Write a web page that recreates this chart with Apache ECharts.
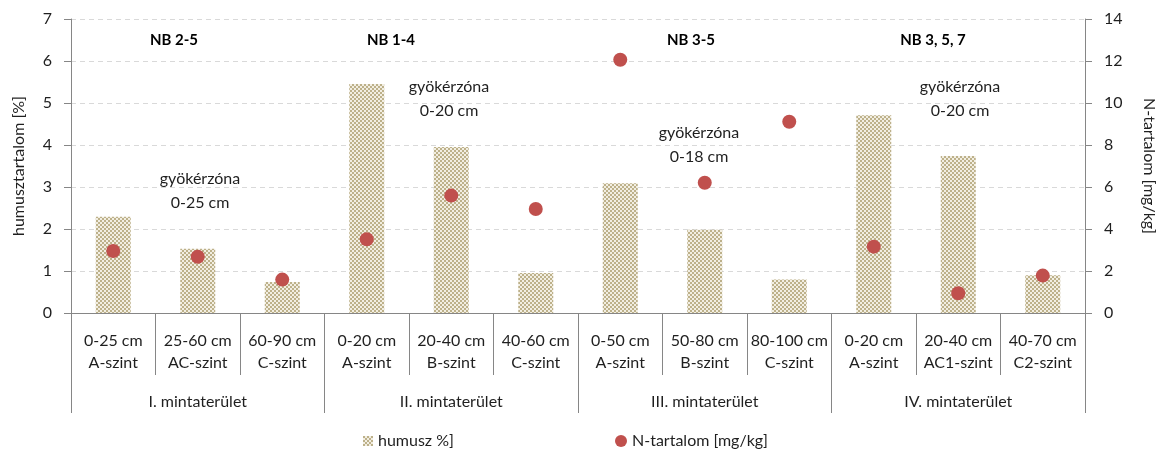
<!DOCTYPE html>
<html>
<head>
<meta charset="utf-8">
<script src="https://cdn.jsdelivr.net/npm/echarts@6/dist/echarts.min.js"></script>
<style>
html,body{margin:0;padding:0;background:#fff;}
#chart{width:1165px;height:454px;}
</style>
</head>
<body>
<div id="chart"></div>
<script>
// ---- data ----
const depths = ['0-25 cm','25-60 cm','60-90 cm','0-20 cm','20-40 cm','40-60 cm','0-50 cm','50-80 cm','80-100 cm','0-20 cm','20-40 cm','40-70 cm'];
const horizons = ['A-szint','AC-szint','C-szint','A-szint','B-szint','C-szint','A-szint','B-szint','C-szint','A-szint','AC1-szint','C2-szint'];
const areas = ['I. mintaterület','II. mintaterület','III. mintaterület','IV. mintaterület'];
const humus = [2.29, 1.53, 0.74, 5.45, 3.95, 0.95, 3.09, 1.98, 0.80, 4.71, 3.74, 0.90];
const nContent = [2.95, 2.68, 1.59, 3.51, 5.59, 4.95, 12.06, 6.20, 9.11, 3.16, 0.94, 1.78];
const leftTicks = [0, 7, 1];
const rightTicks = [0, 14, 2];
const nbLabels = ['NB 2-5','NB 1-4','NB 3-5','NB 3, 5, 7'];
const rootLabels = ['gyökérzóna\n0-25 cm','gyökérzóna\n0-20 cm','gyökérzóna\n0-18 cm','gyökérzóna\n0-20 cm'];

const categories = depths.map((d,i)=>d+'\n'+horizons[i]);

// pattern for bars
const pc = document.createElement('canvas');
pc.width = 4; pc.height = 4;
const ctx = pc.getContext('2d');
ctx.fillStyle = '#f2eee2'; ctx.fillRect(0,0,4,4);
ctx.fillStyle = '#bdb18a';
ctx.fillRect(0,0,2,2); ctx.fillRect(2,2,2,2);
const pattern = {image: pc, repeat: 'repeat'};

const FONT = 'Lato';
const TXT = '#1f1f1f';
const AX = '#868686';

const nbPos = [[174,40],[391,40],[691,40],[933,40]];
const rootPos = [[200,191],[449,99],[699,145],[960,99]];

const graphics = [];
nbLabels.forEach((t,i)=>graphics.push({type:'text', x:nbPos[i][0], y:nbPos[i][1],
  style:{text:t, font:'bold 15px '+FONT, fill:'#000', align:'center', verticalAlign:'middle'}}));
rootLabels.forEach((t,i)=>graphics.push({type:'text', x:rootPos[i][0], y:rootPos[i][1],
  style:{text:t, font:'16px '+FONT, fill:TXT, align:'center', verticalAlign:'middle', lineHeight:24}}));

const chart = echarts.init(document.getElementById('chart'));
chart.setOption({
  animation:false,
  textStyle:{fontFamily:FONT},
  grid:{left:71, right:78, top:19, bottom:141},
  legend:[
    {data:[{name:'humusz %]', icon:'rect'}], left:358, top:428, itemWidth:10, itemHeight:10, itemGap:6,
      textStyle:{fontSize:16, color:TXT, fontFamily:FONT}},
    {data:[{name:'N-tartalom [mg/kg]', icon:'circle'}], left:610, top:428, itemWidth:12, itemHeight:12, itemGap:4,
      textStyle:{fontSize:16, color:TXT, fontFamily:FONT}}
  ],
  xAxis:[
    {type:'category', data:categories, position:'bottom',
      axisLine:{show:true, lineStyle:{color:AX, width:1}},
      axisTick:{show:true, interval:0, length:62, lineStyle:{color:AX}},
      axisLabel:{interval:0, margin:17, fontSize:16, color:TXT, lineHeight:22, fontFamily:FONT},
      splitLine:{show:false}},
    {type:'category', data:areas, position:'bottom',
      axisLine:{show:false},
      axisTick:{show:true, interval:0, length:100, lineStyle:{color:AX}},
      axisLabel:{interval:0, margin:78, fontSize:16, color:TXT, lineHeight:22, fontFamily:FONT},
      splitLine:{show:false}}
  ],
  yAxis:[
    {type:'value', min:leftTicks[0], max:leftTicks[1], interval:leftTicks[2], position:'left',
      name:'humusztartalom [%]', nameLocation:'middle', nameRotate:90, nameGap:44,
      nameTextStyle:{fontSize:16, color:TXT, fontFamily:FONT},
      axisLine:{show:true, lineStyle:{color:AX}},
      axisTick:{show:true, length:7, lineStyle:{color:AX}},
      axisLabel:{margin:19, fontSize:16, color:TXT, fontFamily:FONT},
      splitLine:{show:true, lineStyle:{color:'#d9d9d9', type:[5,4]}}},
    {type:'value', min:rightTicks[0], max:rightTicks[1], interval:rightTicks[2], position:'right',
      name:'N-tartalom [mg/kg]', nameLocation:'middle', nameRotate:-90, nameGap:56,
      nameTextStyle:{fontSize:16, color:TXT, fontFamily:FONT},
      axisLine:{show:true, lineStyle:{color:AX}},
      axisTick:{show:true, length:7, lineStyle:{color:AX}},
      axisLabel:{margin:19, fontSize:16, color:TXT, fontFamily:FONT},
      splitLine:{show:false}}
  ],
  series:[
    {name:'humusz %]', type:'bar', xAxisIndex:0, yAxisIndex:0, data:humus, barWidth:35,
      itemStyle:{color:pattern}},
    {name:'N-tartalom [mg/kg]', type:'scatter', xAxisIndex:0, yAxisIndex:1, data:nContent, symbolSize:14,
      itemStyle:{color:'#c0504d', opacity:1}}
  ],
  graphic:graphics
});
</script>
</body>
</html>
